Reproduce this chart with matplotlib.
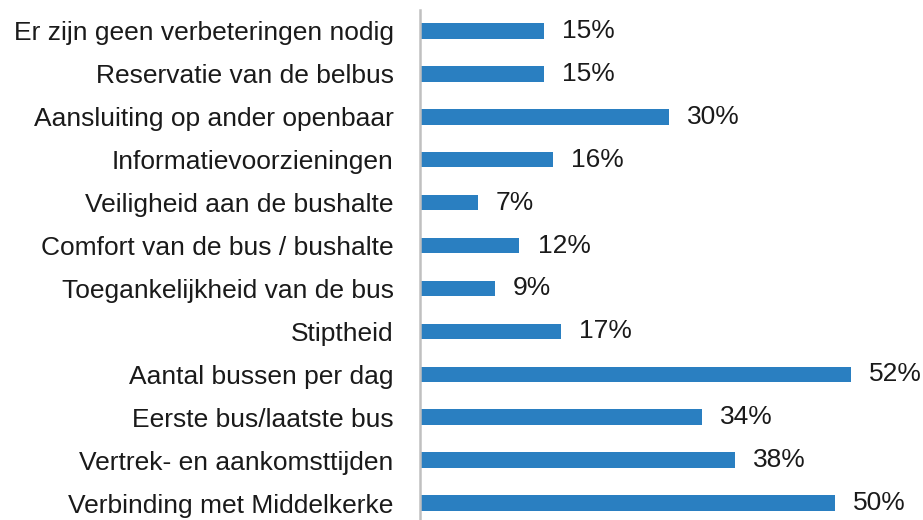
import matplotlib
matplotlib.use("Agg")
import matplotlib.pyplot as plt

categories = [
    "Er zijn geen verbeteringen nodig",
    "Reservatie van de belbus",
    "Aansluiting op ander openbaar",
    "Informatievoorzieningen",
    "Veiligheid aan de bushalte",
    "Comfort van de bus / bushalte",
    "Toegankelijkheid van de bus",
    "Stiptheid",
    "Aantal bussen per dag",
    "Eerste bus/laatste bus",
    "Vertrek- en aankomsttijden",
    "Verbinding met Middelkerke",
]
values = [15, 15, 30, 16, 7, 12, 9, 17, 52, 34, 38, 50]

plt.rcParams["font.family"] = ["Liberation Sans", "DejaVu Sans"]

fig = plt.figure(figsize=(9.23, 5.2), dpi=100)
ax = fig.add_axes([420 / 923, -4.5 / 520, 503 / 923, 515 / 520])

y = list(range(len(categories)))
ax.barh(y, values, height=0.36, color="#2a7fc1")
ax.set_ylim(len(categories) - 0.5, -0.5)
ax.set_xlim(0, 503 / 8.29)

ax.set_yticks(y)
ax.set_yticklabels(categories, fontsize=19, color="#1a1a1a")
ax.tick_params(axis="y", length=0, pad=19)
ax.set_xticks([])

for s in ["top", "right", "bottom"]:
    ax.spines[s].set_visible(False)
ax.spines["left"].set_color("#c0c0c0")
ax.spines["left"].set_linewidth(1.8)

for yi, v in zip(y, values):
    ax.annotate(f"{v}%", (v, yi), xytext=(13, 0), textcoords="offset points",
                va="center", ha="left", fontsize=19, color="#1a1a1a")

fig.savefig("out.png", dpi=100)
